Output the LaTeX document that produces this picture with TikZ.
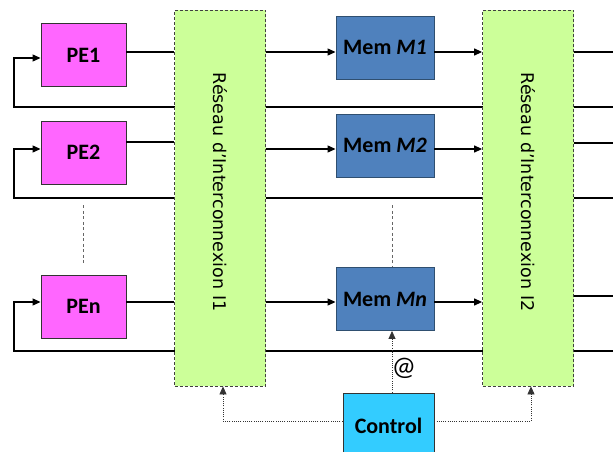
\documentclass[tikz,border=0pt]{standalone}
\usepackage{fontspec}
\setmainfont{Carlito}
\newfontfamily\dvfont{DejaVu Sans}
\usetikzlibrary{arrows.meta}
\definecolor{pecol}{HTML}{FF66FF}
\definecolor{memcol}{HTML}{4F81BD}
\definecolor{memdraw}{HTML}{2F4F70}
\definecolor{netcol}{HTML}{CCFF99}
\definecolor{ctlcol}{HTML}{33CCFF}
\tikzset{
  pebox/.style={draw=black!80, fill=pecol, line width=0.9pt, minimum width=85pt, minimum height=63pt, font=\fontsize{22}{24}\selectfont\bfseries, inner sep=0pt},
  membox/.style={draw=memdraw, fill=memcol, line width=0.9pt, minimum width=98pt, minimum height=63pt, font=\fontsize{22}{24}\selectfont\bfseries, inner sep=0pt},
  netbox/.style={draw=black!75, dashed, dash pattern=on 3pt off 2pt, fill=netcol, line width=0.8pt, minimum width=91pt, minimum height=376pt, inner sep=0pt},
  ctlbox/.style={draw=black!80, fill=ctlcol, line width=0.9pt, minimum width=91pt, minimum height=66pt, font=\fontsize{22}{24}\selectfont\bfseries, inner sep=0pt},
  nettext/.style={rotate=-90, font=\dvfont\fontsize{17.5}{19}\selectfont, inner sep=0pt},
  wire/.style={line width=1.2pt, black},
  arr/.style={wire, -{Triangle[length=8pt,width=7pt]}},
  vdots/.style={draw=black!60, line width=0.9pt, dash pattern=on 3pt off 2.5pt},
  ctlwire/.style={black!80, line width=0.8pt, dash pattern=on 1pt off 1.2pt, -{Triangle[length=8pt,width=7pt]}},
}
\begin{document}
\begin{tikzpicture}[x=1pt,y=-1pt]
\useasboundingbox (0,0) rectangle (613,452);
% row levels
\coordinate (o1) at (0,52);  \coordinate (f1) at (0,107); \coordinate (i1) at (0,58);
\coordinate (o2) at (0,142); \coordinate (m2) at (0,149); \coordinate (r2) at (0,143); \coordinate (f2) at (0,198);
\coordinate (o3) at (0,302); \coordinate (r3) at (0,296); \coordinate (f3) at (0,351);
\coordinate (cl) at (0,421);
\coordinate (E1) at (613,52); \coordinate (EF1) at (613,107);
\coordinate (E2) at (613,143); \coordinate (EF2) at (613,198);
\coordinate (E3) at (613,296); \coordinate (EF3) at (613,351);
\coordinate (L1) at (14,107); \coordinate (L2) at (14,198); \coordinate (L3) at (14,351);
% nodes
\node[pebox] (PE1) at (83.5,55) {PE1};
\node[pebox] (PE2) at (83.5,152.5) {PE2};
\node[pebox] (PEn) at (83.5,306.5) {PEn};
\node[membox] (M1) at (385,47.5) {Mem \textit{M1}};
\node[membox] (M2) at (385,145.5) {Mem \textit{M2}};
\node[membox] (Mn) at (385,299) {Mem \textit{Mn}};
% feedback lines (behind networks)
\draw[arr] (EF1) -- (L1) |- (PE1.west |- i1);
\draw[arr] (EF2) -- (L2) |- (PE2.west |- m2);
\draw[arr] (EF3) -- (L3) |- (PEn.west |- o3);
% networks
\node[netbox] (I1) at (220,198) {};
\node[nettext] at ([yshift=6pt]I1.center) {Réseau d’Interconnexion I1};
\node[netbox] (I2) at (528,198) {};
\node[nettext] at ([yshift=6pt]I2.center) {Réseau d’Interconnexion I2};
% row 1
\draw[wire] (PE1.east |- o1) -- (I1.west |- o1);
\draw[arr] (I1.east |- o1) -- (M1.west |- o1);
\draw[arr] (M1.east |- o1) -- (I2.west |- o1);
\draw[wire] (I2.east |- o1) -- (E1);
% row 2
\draw[wire] (PE2.east |- o2) -- (I1.west |- o2);
\draw[arr] (I1.east |- m2) -- (M2.west |- m2);
\draw[arr] (M2.east |- m2) -- (I2.west |- m2);
\draw[wire] (I2.east |- r2) -- (E2);
% row n
\draw[wire] (PEn.east |- o3) -- (I1.west |- o3);
\draw[arr] (I1.east |- o3) -- (Mn.west |- o3);
\draw[arr] (Mn.east |- o3) -- (I2.west |- o3);
\draw[wire] (I2.east |- r3) -- (E3);
% dots
\draw[vdots] ([yshift=-21pt]PE2.south) -- ([yshift=9pt]PEn.north);
\draw[vdots] ([xshift=7pt,yshift=-28pt]M2.south) -- ([xshift=7pt]Mn.north);
% control
\node[ctlbox] (C) at (388.5,426) {Control};
\draw[ctlwire] ([xshift=3.5pt]C.north) -- ([xshift=7pt]Mn.south);
\node[font=\fontsize{27}{28}\selectfont, inner sep=0pt] (at) at (404,368) {@};
\draw[ctlwire] (C.west |- cl) -| ([xshift=3pt]I1.south);
\draw[ctlwire] (C.east |- cl) -| ([xshift=3pt]I2.south);
\end{tikzpicture}
\end{document}
